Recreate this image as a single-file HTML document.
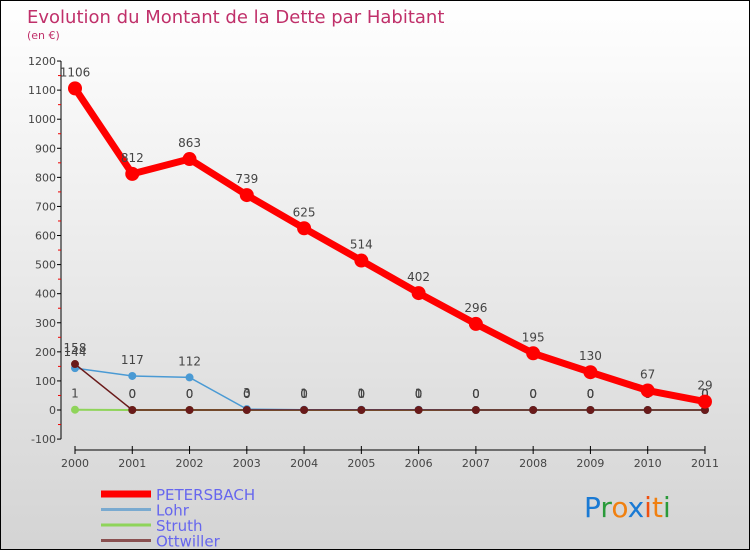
<!DOCTYPE html>
<html><head><meta charset="utf-8"><style>
body{margin:0}
#c{width:748px;height:548px;border:1px solid #000;background:linear-gradient(#fff,#d4d4d4);position:relative;font-family:"DejaVu Sans","Liberation Sans",sans-serif;overflow:hidden}
</style></head><body>
<div id="c">
<svg id="s" width="748" height="548"></svg>
</div>
<script>
const years=["2000","2001","2002","2003","2004","2005","2006","2007","2008","2009","2010","2011"];
const petersbach=[1106,812,863,739,625,514,402,296,195,130,67,29];
const lohr=[144,117,112,3,1,1,1,0,0,0,0,0];
const struth=[1,0,0,0,0,0,0,0,0,0,0,0];
const ottwiller=[158,0,0,0,0,0,0,0,0,0,0,0];
const yTicks=[-100,0,100,200,300,400,500,600,700,800,900,1000,1100,1200];
const NS="http://www.w3.org/2000/svg";
const s=document.getElementById('s');
function X(i){return 74+i*57.27;}
function Y(v){return 409-v*0.2908;}
function el(t,a,p){const e=document.createElementNS(NS,t);for(const k in a)e.setAttribute(k,a[k]);(p||s).appendChild(e);return e;}
function txt(x,y,str,a,name){const e=el('text',Object.assign({x:x,y:y},a));e.textContent=str;return e;}
txt(26,22,"Evolution du Montant de la Dette par Habitant",{fill:"#c0306a","font-size":18},"chart-title");
txt(26,38,"(en €)",{fill:"#c0306a","font-size":11},"y-unit-label");
let ax=el('line',{x1:60,y1:Y(1200),x2:60,y2:Y(-100),stroke:"#000"});

yTicks.forEach((v,i)=>{el('line',{x1:56,x2:60,y1:Y(v),y2:Y(v),stroke:"#000"});
 if(i<yTicks.length-1)el('line',{x1:57,x2:60,y1:Y(v+50),y2:Y(v+50),stroke:"#e00"});
 txt(55,Y(v)+4,String(v),{"text-anchor":"end","font-size":11,fill:"#444"},"y-tick-label");});
let xa=el('line',{x1:74,x2:X(11),y1:449,y2:449,stroke:"#000"});

years.forEach((y,i)=>{el('line',{x1:X(i),x2:X(i),y1:445,y2:453,stroke:"#000"});
 txt(X(i),466,y,{"text-anchor":"middle","font-size":11,fill:"#444"},"x-tick-label");});
function series(d,col,w,r,name,labels){
 const g=el('g',{});
 el('polyline',{points:d.map((v,i)=>X(i)+","+Y(v)).join(" "),fill:"none",stroke:col,"stroke-width":w,"stroke-linejoin":"round"},g);
 d.forEach((v,i)=>{const c=el('circle',{cx:X(i),cy:Y(v),r:r,fill:col},g);
  if(labels)txt(X(i),Y(v)-12,String(v),{"text-anchor":"middle","font-size":12,fill:"#444"},name+'-value-label');});
}
series(struth,"#8fd45a",2,4,"struth",true);
series(lohr,"#4a9ad4",1.5,4,"lohr",true);
series(ottwiller,"#6a1a1a",1.5,4,"ottwiller",true);
series(petersbach,"#f00",7,7,"petersbach",true);
const leg=[["PETERSBACH","#f00",7],["Lohr","#7aaad0",3],["Struth","#8fd45a",3],["Ottwiller","#8a5050",3]];
leg.forEach((l,i)=>{const y=493+i*15.5;
 const ln=el('line',{x1:100,x2:150,y1:y,y2:y,stroke:l[1],"stroke-width":l[2]});
 txt(155,y+6,l[0],{"font-size":15,fill:"#6666ee"},"legend-entry");});
const lg=el('text',{x:583,y:516,"font-size":28,"font-family":"DejaVu Sans"});
[["P","#1a7ad4"],["r","#2a9a3a"],["o","#f08010"],["x","#1a7ad4"],["i","#f05010"],["t","#f08010"],["i","#2a9a3a"]].forEach(p=>{const t=el('tspan',{fill:p[1]},lg);t.textContent=p[0];});
</script>
</body></html>
